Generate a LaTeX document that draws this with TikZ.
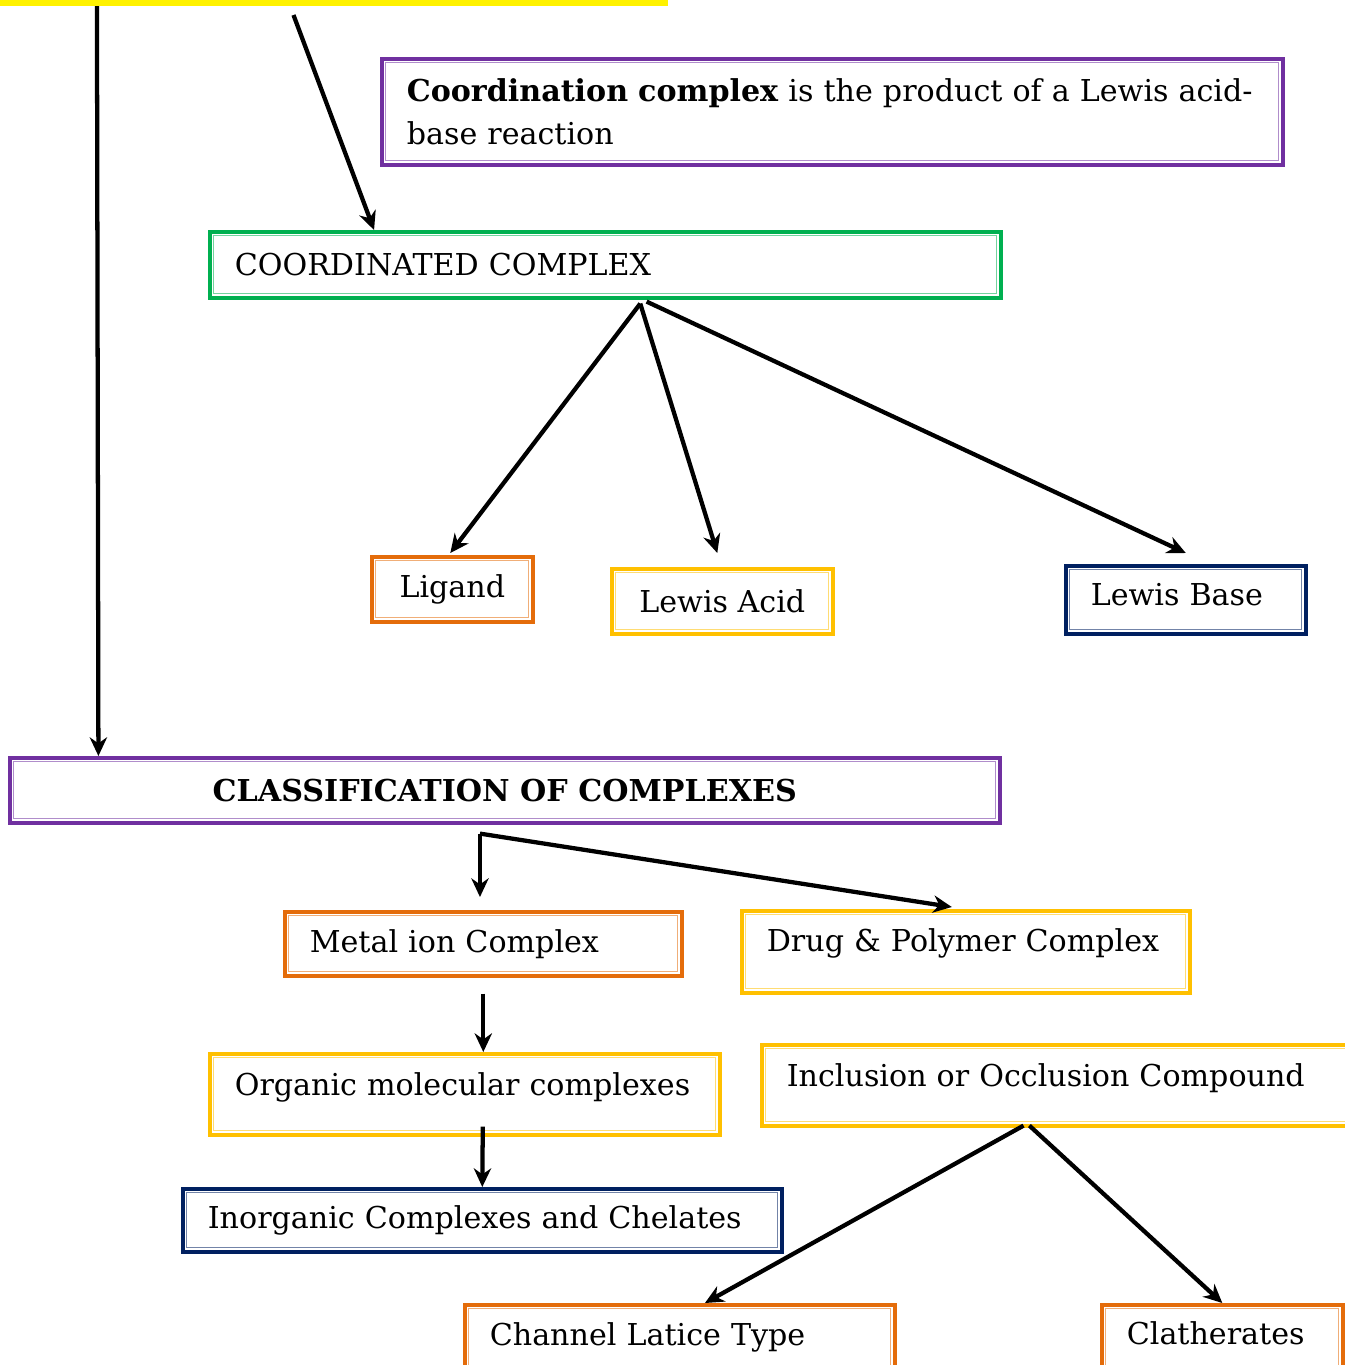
\documentclass[tikz,border=0pt]{standalone}
\usepackage{fontspec}
\setmainfont{DejaVu Serif}
\usetikzlibrary{arrows.meta,calc}
\definecolor{cpurple}{RGB}{112,48,160}
\definecolor{cgreen}{RGB}{0,176,80}
\definecolor{corange}{RGB}{228,108,10}
\definecolor{cgold}{RGB}{255,192,0}
\definecolor{cnavy}{RGB}{0,32,96}
\begin{document}
\begin{tikzpicture}[x=0.75pt,y=-0.75pt,
  bx/.style={draw=#1, line width=2.7pt, anchor=north west, inner xsep=18.75pt, inner ysep=0pt,
    font=\fontsize{22.6}{32.3}\selectfont,
    path picture={\draw[#1!55, line width=0.9pt]
      ([shift={(3pt,3pt)}]path picture bounding box.south west) rectangle
      ([shift={(-3pt,-3pt)}]path picture bounding box.north east);}},
  arr/.style={line width=3.2pt, -{Stealth[length=14pt,width=13pt]}}]
\useasboundingbox (0,0) rectangle (1345,1365);
\clip (0,0) rectangle (1345,1365);

\node[fill=yellow, inner sep=0pt, minimum width=501pt, minimum height=27pt, anchor=south west] (ybar) at (0,6) {};

\node[bx=cpurple, text width=638.25pt, minimum height=79.5pt, align=left] (top) at (380,57)
  {\mbox{\textbf{Coordination complex} is the product of a Lewis acid-}\\base reaction};
\node[bx=cgreen, text width=555.75pt, minimum height=49.5pt, align=left] (cc) at (208,230) {COORDINATED COMPLEX};
\node[bx=corange, inner xsep=0pt, minimum width=120.75pt, minimum height=48.75pt, align=center] (lig) at (370,555) {Ligand};
\node[bx=cgold, inner xsep=0pt, minimum width=165.75pt, minimum height=48.75pt, align=center] (la) at (610,567) {Lewis Acid};
\node[bx=cnavy, text width=142.5pt, minimum height=51pt, text depth=8pt, align=left] (lb) at (1064,564) {\mbox{Lewis Base}};
\node[bx=cpurple, inner xsep=0pt, minimum width=742.5pt, minimum height=48.75pt, align=center] (cl) at (8,756) {\textbf{CLASSIFICATION OF COMPLEXES}};
\node[bx=corange, text width=260.25pt, minimum height=48pt, align=left] (mi) at (283,910) {Metal ion Complex};
\node[bx=cgold, text width=298.5pt, minimum height=61.5pt, text depth=17pt, align=left] (dr) at (740,909) {\mbox{Drug \& Polymer Complex}};
\node[bx=cgold, text width=345pt, minimum height=60.75pt, text depth=16pt, align=left] (org) at (208,1052) {Organic molecular complexes};
\node[bx=cnavy, text width=411.75pt, minimum height=47.25pt, align=left] (inorg) at (181,1187) {\mbox{Inorganic Complexes and Chelates}};
\node[bx=cgold, text width=420pt, minimum height=60.75pt, text depth=15pt, align=left] (inc) at (760,1043) {\mbox{Inclusion or Occlusion Compound}};
\node[bx=corange, text width=285pt, minimum height=49.5pt, align=left] (ch) at (463,1303) {Channel Latice Type};
\node[bx=corange, text width=143.25pt, minimum height=49.5pt, text depth=7pt, align=left] (clt) at (1100,1303) {\mbox{Clatherates}};

\draw[arr] ($(ybar.south west)!0.145!(ybar.south east)$) -- ($(cl.north west)!0.091!(cl.north east)$);
\draw[arr] ($(ybar.south west)!0.439!(ybar.south east)+(0,9)$) -- ($(cc.north west)!0.209!(cc.north east)$);

\coordinate (c1) at ($(cc.south west)!0.544!(cc.south east)+(0,4)$);
\coordinate (c2) at ($(cc.south west)!0.552!(cc.south east)+(0,2)$);
\draw[arr] (c1) -- ($(lig.north)+(-2,-2)$);
\draw[arr] (c1) -- ($(la.north)+(-5,-14)$);
\draw[arr] (c2) -- ($(lb.north)+(0,-11)$);

\coordinate (s1) at ($(cl.south west)!0.475!(cl.south east)+(0,9)$);
\draw[arr] (s1) -- ($(s1 |- mi.north)+(0,-13)$);
\draw[arr] (s1) -- ($(dr.north west)!0.469!(dr.north east)+(0,-2)$);

\draw[arr] ($(mi.south)+(0,16)$) -- (mi.south |- org.north);
\draw[arr] ($(org.south west)!0.535!(org.south east)+(0,-10)$) -- (inorg.north);

\draw[arr] ($(inc.south west)!0.4295!(inc.south east)+(0,-2)$) -- ($(ch.north west)!0.558!(ch.north east)$);
\draw[arr] ($(inc.south west)!0.439!(inc.south east)+(0,-2)$) -- (clt.north);
\end{tikzpicture}
\end{document}
